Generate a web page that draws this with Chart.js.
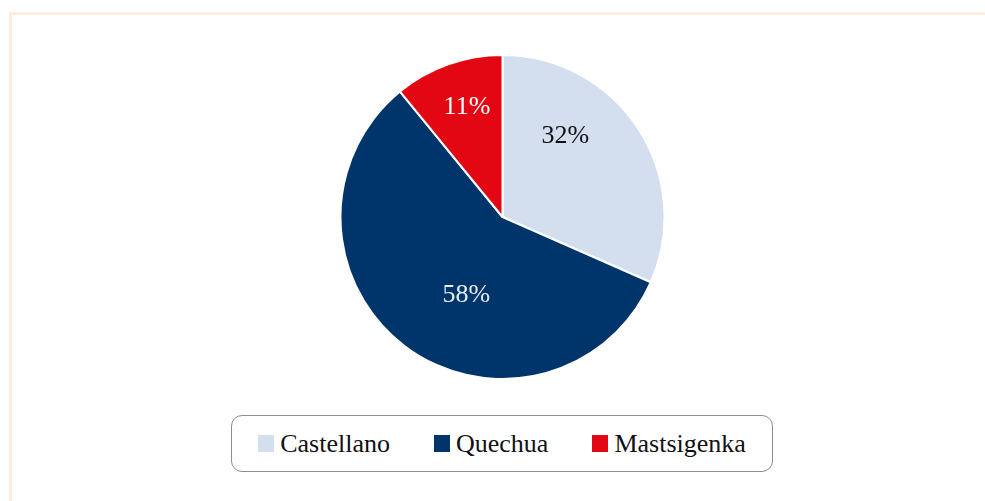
<!DOCTYPE html>
<html>
<head>
<meta charset="utf-8">
<script src="https://cdn.jsdelivr.net/npm/chart.js@4.4.1/dist/chart.umd.min.js"></script>
<style>
  html, body { margin: 0; padding: 0; background: #fff; }
  body { width: 985px; height: 501px; position: relative; overflow: hidden; font-family: "Liberation Serif", "DejaVu Serif", serif; }
  .frame { position: absolute; left: 9px; top: 12px; right: 0; bottom: 0; border-top: 3px solid #fdeee0; border-left: 3px solid #fdeee0; }
  .pie-wrap { position: absolute; left: 339px; top: 54px; width: 327px; height: 326px; }
  .legend { position: absolute; left: 231px; top: 415px; width: 540px; height: 55px; border: 1px solid #8f8f8f; border-radius: 11px;
            display: flex; align-items: center; justify-content: center; gap: 44px; }
  .legend-item { display: flex; align-items: center; gap: 6px; font-size: 26px; color: #111; }
  .legend-box { width: 16px; height: 17px; }
</style>
</head>
<body>
<div class="frame"></div>
<div class="pie-wrap"><canvas id="pie"></canvas></div>
<div class="legend" id="legend"></div>

<script>
// data
const categories = ['Castellano', 'Quechua', 'Mastsigenka'];
const shares = [31.6, 57.5, 10.9];
const sliceColors = ['#d3deef', '#00356b', '#e30613'];
const labelColors = ['#111111', '#e8ecf2', '#ffffff'];

// where each % label sits: angle clockwise from top (deg), fraction of radius
const labelSpots = [
  { angle: 38, r: 0.63 },
  { angle: 205, r: 0.53 },
  { angle: -18, r: 0.71 },
];

const pctLabels = {
  id: 'pctLabels',
  afterDatasetsDraw(chart) {
    const { ctx } = chart;
    const meta = chart.getDatasetMeta(0);
    ctx.save();
    ctx.font = '26px "Liberation Serif", serif';
    ctx.textAlign = 'center';
    ctx.textBaseline = 'middle';
    meta.data.forEach((arc, i) => {
      const spot = labelSpots[i];
      const a = (spot.angle - 90) * Math.PI / 180;
      const x = arc.x + Math.cos(a) * arc.outerRadius * spot.r;
      const y = arc.y + Math.sin(a) * arc.outerRadius * spot.r;
      ctx.fillStyle = labelColors[i];
      ctx.fillText(Math.round(shares[i]) + '%', x, y);
    });
    ctx.restore();
  },
};

new Chart(document.getElementById('pie'), {
  type: 'pie',
  data: {
    labels: categories,
    datasets: [
      {
        data: shares,
        backgroundColor: sliceColors,
        borderColor: '#ffffff',
        borderWidth: 2,
      },
    ],
  },
  options: {
    responsive: true,
    maintainAspectRatio: false,
    animation: false,
    layout: { padding: 0 },
    plugins: { legend: { display: false }, tooltip: { enabled: false } },
  },
  plugins: [pctLabels],
});

// html legend
document.getElementById('legend').innerHTML = categories
  .map(
    (c, i) => `
    <div class="legend-item">
      <span class="legend-box" style="background:${sliceColors[i]}"></span>
      <span>${c}</span>
    </div>`
  )
  .join('');
</script>
</body>
</html>
